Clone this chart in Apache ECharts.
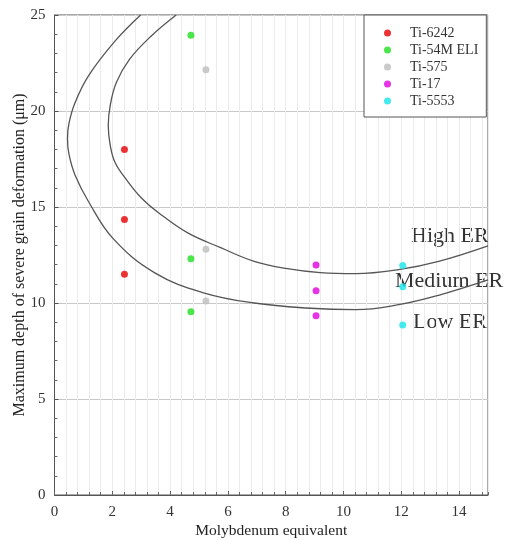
<!DOCTYPE html>
<html>
<head>
<meta charset="utf-8">
<script src="https://cdn.jsdelivr.net/npm/echarts@6/dist/echarts.min.js"></script>
<style>
  html, body { margin: 0; padding: 0; background: #fff; }
  #chart { width: 508px; height: 540px; }
</style>
</head>
<body>
<div id="chart"></div>
<script>
// sample points per alloy: [Mo eq, depth]
const ti6242 = [[2.42, 18.0], [2.42, 14.35], [2.42, 11.5]]
const ti54m = [[4.72, 23.95], [4.72, 12.3], [4.72, 9.55]]
const ti575 = [[5.24, 22.15], [5.24, 12.8], [5.24, 10.1]]
const ti17 = [[9.05, 11.98], [9.05, 10.64], [9.05, 9.34]]
const ti5553 = [[12.05, 11.95], [12.05, 10.85], [12.05, 8.85]]

// boundary curves
const outerCurve = [[2.98, 25.0], [2.1, 23.65], [1.17, 21.82], [0.71, 20.43], [0.5, 19.35],
  [0.45, 18.55], [0.5, 17.75], [0.71, 16.67], [1.17, 15.3], [2.03, 13.35], [3.47, 11.57],
  [5.19, 10.52], [6.91, 10.0], [8.7, 9.74], [10.42, 9.65], [11.91, 9.91], [13.29, 10.4], [15.0, 11.2]]
const innerCurve = [[4.21, 25.0], [3.35, 23.91], [2.6, 22.7], [2.14, 21.48], [1.93, 20.3],
  [1.86, 19.25], [1.93, 18.2], [2.1, 17.3], [2.5, 16.4], [3.0, 15.48], [3.6, 14.7], [4.61, 13.65],
  [5.77, 12.87], [6.91, 12.17], [8.0, 11.8], [9.2, 11.58], [10.42, 11.53], [11.91, 11.74],
  [13.29, 12.17], [15.0, 12.98]]

const seriesNames = ['Ti-6242', 'Ti-54M ELI', 'Ti-575', 'Ti-17', 'Ti-5553']
const seriesColors = ['#e60000', '#1fe01f', '#bdbdbd', '#e000e0', '#14e6ea']
const regionLabels = ['High ER', 'Medium ER', 'Low ER']

const font = 'Liberation Serif'
let myChart = echarts.init(document.getElementById('chart'))

const pointSets = [ti6242, ti54m, ti575, ti17, ti5553]
let series = pointSets.map((d, i) => ({
  name: seriesNames[i],
  type: 'scatter',
  data: d,
  symbol: 'circle',
  symbolSize: 7,
  itemStyle: { color: seriesColors[i] },
  z: 5
}))
;[outerCurve, innerCurve].forEach((c) => {
  series.push({
    type: 'line',
    data: c,
    smooth: 0.4,
    showSymbol: false,
    lineStyle: { color: '#555', width: 1.3 },
    silent: true,
    z: 3
  })
})

const labelFont = '22px "Liberation Serif"'

let option = {
  animation: false,
  backgroundColor: '#fff',
  grid: {
    left: 54.5, right: 20, top: 15, bottom: 45,
    outerBoundsMode: 'none',
    containLabel: false,
    show: true, borderColor: '#555', borderWidth: 1
  },
  legend: {
    data: seriesNames,
    orient: 'vertical',
    left: 364, top: 15,
    icon: 'circle',
    itemWidth: 7, itemHeight: 7,
    itemGap: 3,
    padding: [11, 8, 9, 20],
    borderColor: '#555', borderWidth: 1,
    backgroundColor: '#fff',
    textStyle: { fontFamily: font, fontSize: 14, color: '#333', lineHeight: 14, padding: [0, 0, 0, 14] }
  },
  xAxis: [{
    type: 'value',
    min: 0, max: 15, interval: 2,
    name: 'Molybdenum equivalent',
    nameLocation: 'middle',
    nameGap: 28,
    nameMoveOverlap: false,
    nameTextStyle: { fontFamily: font, fontSize: 15.5, color: '#222' },
    axisLine: { lineStyle: { color: '#555' } },
    axisTick: { inside: true, length: 4, lineStyle: { color: '#555' } },
    axisLabel: { fontFamily: font, fontSize: 15, color: '#333', margin: 10, showMaxLabel: false },
    splitLine: { lineStyle: { color: '#c8c8c8' } }
  }, {
    // fine ticks every 0.4
    type: 'value',
    position: 'bottom',
    min: 0, max: 15, interval: 0.4,
    axisLine: { show: false },
    axisTick: { inside: true, length: 3, lineStyle: { color: '#666' } },
    axisLabel: { show: false },
    splitLine: { lineStyle: { color: '#ebebeb' } }
  }],
  yAxis: {
    type: 'value',
    min: 0, max: 25, interval: 5,
    name: 'Maximum depth of severe grain deformation (μm)',
    nameLocation: 'middle',
    nameGap: 27,
    nameMoveOverlap: false,
    nameTextStyle: { fontFamily: font, fontSize: 16, color: '#222' },
    axisLine: { lineStyle: { color: '#555' } },
    axisTick: { inside: true, length: 4, lineStyle: { color: '#555' } },
    minorTick: { show: true, splitNumber: 5, length: 3, lineStyle: { color: '#666' } },
    axisLabel: { fontFamily: font, fontSize: 15, color: '#333', margin: 9 },
    splitLine: { lineStyle: { color: '#c8c8c8' } }
  },
  graphic: [
    { type: 'text', left: 411, top: 225, style: { text: regionLabels[0], font: labelFont, fill: '#333' } },
    { type: 'text', left: 395, top: 270, style: { text: regionLabels[1], font: labelFont, fill: '#333' } },
    { type: 'text', left: 413, top: 311, style: { text: regionLabels[2], font: labelFont, fill: '#333' } }
  ],
  series: series
}
myChart.setOption(option)
</script>
</body>
</html>
